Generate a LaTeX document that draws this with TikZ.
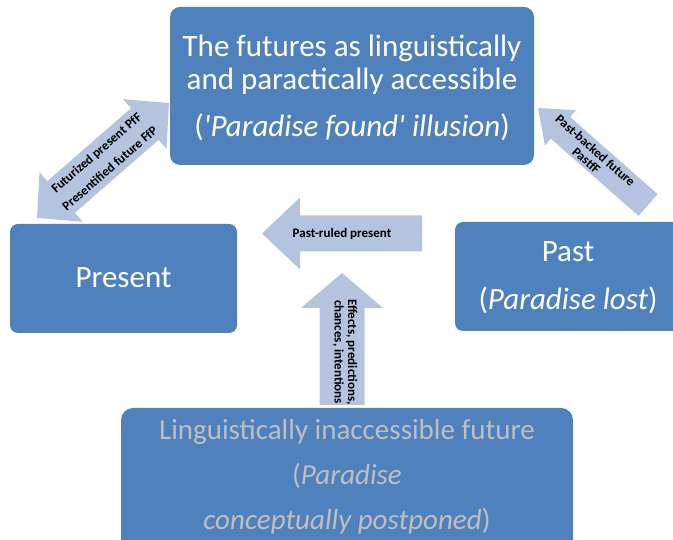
\documentclass[tikz,border=0pt]{standalone}
\usepackage{fontspec}
\setmainfont{Carlito}
\definecolor{boxfill}{HTML}{4F81BD}
\definecolor{arrowfill}{HTML}{B4C4DE}
\definecolor{lowgray}{HTML}{BFBFBF}
\tikzset{
  box/.style={fill=boxfill, rounded corners=10pt, inner sep=0pt},
  bigtext/.style={text=white, align=center, inner sep=0pt, font=\fontsize{31}{33}\selectfont},
  lowtext/.style={text=lowgray, align=center, inner sep=0pt, font=\fontsize{29}{45}\selectfont},
  blockarrow/.style={fill=arrowfill},
  lbl/.style={text=black, align=center, inner sep=0pt, font=\fontsize{13}{13.4}\selectfont\bfseries},
}
\begin{document}
\begin{tikzpicture}[x=1pt,y=1pt]
\useasboundingbox (0,0) rectangle (673,540);
% boxes
\node[box, minimum width=364pt, minimum height=158pt] (top) at (352,454) {};
\node[box, rounded corners=8pt, minimum width=227pt, minimum height=109pt] (present) at (123.5,261.5) {};
\node[box, rounded corners=8pt, minimum width=225pt, minimum height=109pt] (past) at (567.5,263.5) {};
\node[box, rounded corners=12pt, minimum width=452pt, minimum height=145pt] (low) at (347,59.5) {};
% texts
\node[bigtext] (toptext) at (352,452) {The futures as linguistically\\and paractically accessible\\[14pt](\textit{\textquotesingle Paradise found\textquotesingle{} illusion})};
\node[bigtext] (presenttext) at (123.5,262) {Present};
\node[bigtext] (pasttext) at (568,262) {Past\\[15pt](\textit{Paradise lost})};
\node[lowtext] (lowtext) at (347,63) {Linguistically inaccessible future\\(\textit{Paradise}\\\textit{conceptually postponed})};
% double arrow present <-> futures
\begin{scope}[shift={(103,379.5)},rotate=41.06]
\fill[blockarrow] (-87.5,0) -- (-55.5,33) -- (-55.5,21) -- (55.5,21) -- (55.5,33) -- (87.5,0) -- (55.5,-33) -- (55.5,-21) -- (-55.5,-21) -- (-55.5,-33) -- cycle;
\node[lbl, transform shape] (dl) at (0,0) {Futurized present PfF\\[7pt]Presentified future FfP};
\end{scope}
% past -> futures
\begin{scope}[shift={(648,335)},rotate=138.6]
\fill[blockarrow] (0,14.5) -- (116.7,14.5) -- (116.7,23.5) -- (146.7,0) -- (116.7,-23.5) -- (116.7,-14.5) -- (0,-14.5) -- cycle;
\end{scope}
\node[lbl, rotate=-41.4] (rl) at (591,384.5) {Past-backed future\\PastfF};
% past-ruled present
\fill[blockarrow] (422,324.5) -- (300,324.5) -- (300,342.5) -- (262,306.5) -- (300,270.5) -- (300,288.5) -- (422,288.5) -- cycle;
\node[lbl] (ml) at (342,306.5) {Past-ruled present};
% up arrow
\fill[blockarrow] (319.5,135) -- (319.5,232) -- (301,232) -- (342,267) -- (383,232) -- (364.5,232) -- (364.5,135) -- cycle;
\node[lbl, rotate=-90] (ul) at (345,188) {Effects, predictions,\\chances, intentions};
\end{tikzpicture}
\end{document}
